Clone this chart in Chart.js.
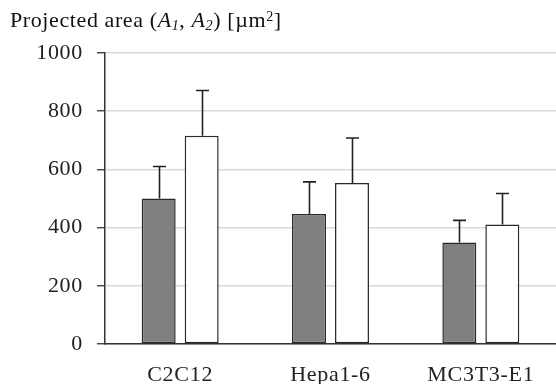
<!DOCTYPE html>
<html>
<head>
<meta charset="utf-8">
<script src="https://cdn.jsdelivr.net/npm/chart.js@4/dist/chart.umd.min.js"></script>
<style>
  html, body { margin: 0; padding: 0; background: #fff; }
  #wrap { position: relative; width: 556px; height: 384px; }
  #title {
    position: absolute; left: 10px; top: 9px;
    font-family: "Liberation Serif", "Times New Roman", serif;
    font-size: 22px; line-height: 22px; color: #111; white-space: nowrap;
    letter-spacing: 0.6px;
  }
  #title sub, #title sup { font-size: 0.64em; line-height: 0; }
  #title sub { vertical-align: -0.22em; }
  #title sup { vertical-align: 0.45em; }
  canvas { position: absolute; left: 0; top: 0; }
</style>
</head>
<body>
<div id="wrap">
  <canvas id="chart" width="556" height="384"></canvas>
  <div id="title">Projected area (<i>A<sub>1</sub></i>, <i>A<sub>2</sub></i>) [µm<sup>2</sup>]</div>
</div>
<script>
// Cell lines
const categories = ['C2C12', 'Hepa1-6', 'MC3T3-E1'];
// Mean projected areas A1 (grey) and A2 (white), µm²
const areaA1 = [500, 447, 349];
const areaA2 = [716, 553, 411];
// Standard deviations (drawn upward only)
const sdA1 = [110, 110, 76];
const sdA2 = [155, 155, 106];
// Y axis range and steps
const yMin = 0, yMax = 1000, yLabelStep = 200, yMinorStep = 100;

const serif = '"Liberation Serif", "Times New Roman", serif';

// Slightly airy tick text
const textSpacing = {
  id: 'textSpacing',
  beforeDraw(chart) { chart.ctx.letterSpacing = '0.7px'; }
};

// Upward error bars with caps, positioned via the y scale
const errorBars = {
  id: 'errorBars',
  afterDatasetsDraw(chart) {
    const ctx = chart.ctx;
    const y = chart.scales.y;
    chart.data.datasets.forEach((ds, di) => {
      const meta = chart.getDatasetMeta(di);
      meta.data.forEach((bar, i) => {
        const top = y.getPixelForValue(ds.data[i] + ds.errors[i]);
        const x = Math.round(bar.x) + 0.5;
        ctx.save();
        ctx.strokeStyle = '#222';
        ctx.lineWidth = 1.6;
        ctx.beginPath();
        ctx.moveTo(x, bar.y);
        ctx.lineTo(x, top);
        ctx.moveTo(x - 6.5, top);
        ctx.lineTo(x + 6.5, top);
        ctx.stroke();
        ctx.restore();
      });
    });
  }
};

new Chart(document.getElementById('chart'), {
  type: 'bar',
  data: {
    labels: categories,
    datasets: [
      { label: 'A1', data: areaA1, errors: sdA1, backgroundColor: '#808080',
        borderColor: '#2a2a2a', borderWidth: 1.5, borderSkipped: false },
      { label: 'A2', data: areaA2, errors: sdA2, backgroundColor: '#ffffff',
        borderColor: '#2a2a2a', borderWidth: 1.5, borderSkipped: false }
    ]
  },
  options: {
    responsive: false,
    animation: false,
    devicePixelRatio: 1,
    categoryPercentage: 0.572,
    barPercentage: 0.79,
    layout: { padding: { top: 53, right: 0, left: 0, bottom: 0 } },
    plugins: { legend: { display: false }, tooltip: { enabled: false } },
    scales: {
      x: {
        grid: { display: false },
        border: { display: true, color: '#333', width: 1.5 },
        ticks: { color: '#222', font: { family: serif, size: 22 }, padding: 10 },
        afterFit(scale) { scale.height = 40; }
      },
      y: {
        min: yMin, max: yMax,
        grid: {
          color: c => (c.tick && c.tick.value % yLabelStep === 0) ? '#d9d9d9' : 'rgba(0,0,0,0)',
          lineWidth: 1.5,
          tickColor: '#333',
          tickLength: 8,
          tickWidth: 1.3
        },
        border: { display: true, color: '#333', width: 1.5 },
        ticks: {
          stepSize: yMinorStep,
          color: '#222',
          font: { family: serif, size: 22 },
          padding: 14,
          callback: v => (v % yLabelStep === 0 ? v : '')
        },
        afterFit(scale) { scale.width = 105; }
      }
    }
  },
  plugins: [textSpacing, errorBars]
});
</script>
</body>
</html>
